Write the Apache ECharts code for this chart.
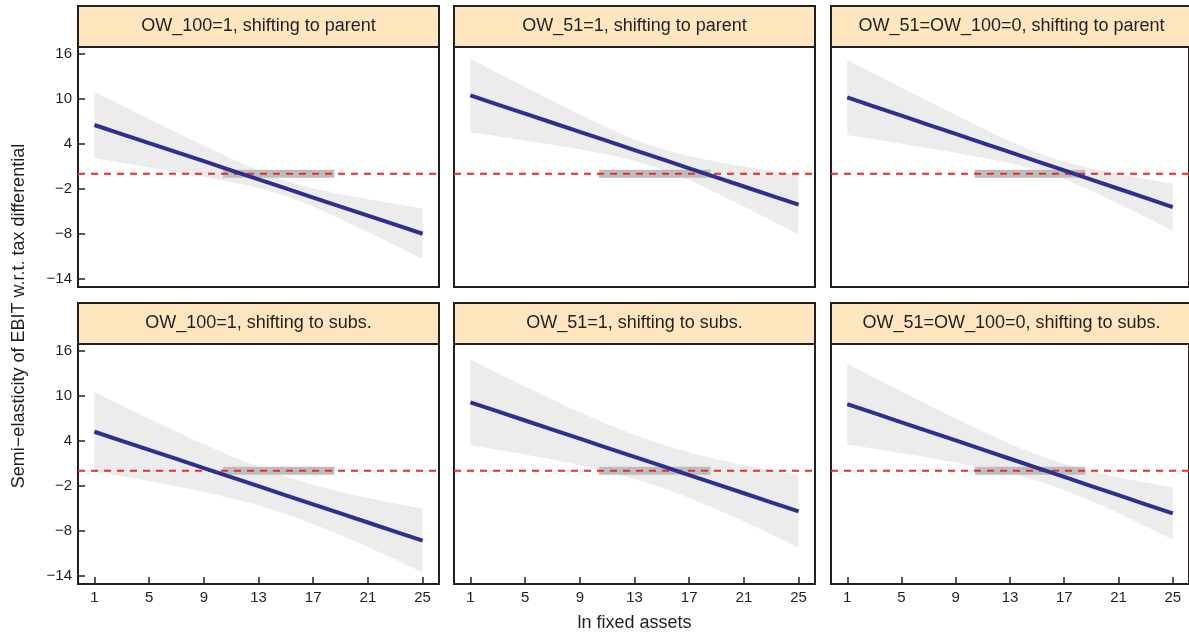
<!DOCTYPE html>
<html><head><meta charset="utf-8">
<script src="https://cdn.jsdelivr.net/npm/echarts@6/dist/echarts.min.js"></script>
<style>html,body{margin:0;padding:0;background:#fff}#c{width:1189px;height:636px}</style>
</head><body><div id="c"></div>
<script>
// ---- data ----
const panelTitles = [
  'OW_100=1, shifting to parent', 'OW_51=1, shifting to parent', 'OW_51=OW_100=0, shifting to parent',
  'OW_100=1, shifting to subs.', 'OW_51=1, shifting to subs.', 'OW_51=OW_100=0, shifting to subs.'
];
const xGrid = [1,3,5,7,9,11,13,15,17,19,21,23,25];
const fit1 = [6.50,5.29,4.08,2.88,1.67,0.46,-0.75,-1.96,-3.17,-4.38,-5.58,-6.79,-8.00];
const upper1 = [10.94,9.12,7.31,5.52,3.75,2.02,0.40,-0.96,-1.96,-2.73,-3.39,-4.03,-4.65];
const lower1 = [2.06,1.46,0.85,0.24,-0.41,-1.10,-1.90,-2.96,-4.38,-6.03,-7.77,-9.55,-11.35];
const fit2 = [10.44,9.23,8.01,6.80,5.58,4.37,3.16,1.94,0.73,-0.49,-1.70,-2.91,-4.13];
const upper2 = [15.33,13.45,11.57,9.72,7.90,6.16,4.58,3.29,2.34,1.60,0.97,0.39,-0.17];
const lower2 = [5.55,5.01,4.45,3.88,3.26,2.58,1.74,0.59,-0.88,-2.58,-4.37,-6.21,-8.09];
const fit3 = [10.18,8.96,7.74,6.53,5.31,4.09,2.87,1.65,0.44,-0.78,-2.00,-3.22,-4.44];
const upper3 = [15.18,13.33,11.48,9.66,7.84,6.05,4.34,2.80,1.59,0.69,-0.04,-0.69,-1.31];
const lower3 = [5.18,4.59,4.00,3.40,2.78,2.13,1.40,0.50,-0.71,-2.25,-3.96,-5.75,-7.57];
const fit4 = [5.20,3.99,2.78,1.57,0.36,-0.85,-2.06,-3.27,-4.48,-5.69,-6.90,-8.11,-9.32];
const upper4 = [10.49,8.70,6.93,5.20,3.54,1.96,0.51,-0.77,-1.87,-2.82,-3.64,-4.38,-5.06];
const lower4 = [-0.09,-0.72,-1.37,-2.06,-2.82,-3.66,-4.63,-5.77,-7.09,-8.56,-10.16,-11.84,-13.58];
const fit5 = [9.12,7.91,6.70,5.48,4.27,3.06,1.85,0.64,-0.58,-1.79,-3.00,-4.21,-5.42];
const upper5 = [14.84,13.01,11.22,9.47,7.80,6.23,4.80,3.55,2.46,1.54,0.75,0.04,-0.61];
const lower5 = [3.40,2.81,2.18,1.49,0.74,-0.11,-1.10,-2.27,-3.62,-5.12,-6.75,-8.46,-10.23];
const fit6 = [8.89,7.67,6.46,5.25,4.04,2.82,1.60,0.39,-0.83,-2.05,-3.26,-4.48,-5.69];
const upper6 = [14.27,12.41,10.57,8.75,6.97,5.23,3.58,2.12,0.90,-0.07,-0.85,-1.55,-2.19];
const lower6 = [3.51,2.93,2.35,1.75,1.11,0.41,-0.38,-1.34,-2.56,-4.03,-5.67,-7.41,-9.19];
const iqrRange = [10.4, 18.55];   // grey bar on the zero line
const refValue = 0;               // red dashed reference line
const xTicks = [1,5,9,13,17,21,25];
const yTicks = [-14,-8,-2,4,10,16];
const xRange = [-0.2, 26.2];
const yRange = [-15.1, 16.9];
const xTitle = 'ln fixed assets';
const yTitle = 'Semi\u2212elasticity of EBIT w.r.t. tax differential';

// ---- layout ----
const fits = [fit1, fit2, fit3, fit4, fit5, fit6];
const uppers = [upper1, upper2, upper3, upper4, upper5, upper6];
const lowers = [lower1, lower2, lower3, lower4, lower5, lower6];
const colLeft = [78, 454, 831];
const rowTop = [47, 344];
const W = 361, H = 240, STRIP = 41;
const INK = '#231F20';
const FONT = '"Liberation Sans", Arial, Helvetica, sans-serif';

const grids = [], xAxes = [], yAxes = [], series = [], graphics = [];
for (let p = 0; p < 6; p++) {
  const r = Math.floor(p / 3), c = p % 3;
  const left = colLeft[c], top = rowTop[r];
  grids.push({left: left, top: top, width: W, height: H, show: true,
    borderColor: INK, borderWidth: 2, backgroundColor: '#fff', containLabel: false});
  const showX = r === 1, showY = c === 0;
  xAxes.push({type: 'value', gridIndex: p, min: xRange[0], max: xRange[1], position: 'bottom',
    axisLine: {show: false, onZero: false}, splitLine: {show: false},
    axisTick: {show: showX, inside: true, length: 7, customValues: xTicks, lineStyle: {color: INK, width: 1.5}},
    axisLabel: {show: showX, customValues: xTicks, fontSize: 15, color: INK, fontFamily: FONT, margin: 6}});
  yAxes.push({type: 'value', gridIndex: p, min: yRange[0], max: yRange[1], position: 'left',
    axisLine: {show: false, onZero: false}, splitLine: {show: false},
    axisTick: {show: showY, inside: true, length: 7, customValues: yTicks, lineStyle: {color: INK, width: 1.5}},
    axisLabel: {show: showY, customValues: yTicks, fontSize: 15, color: INK, fontFamily: FONT, margin: 6,
      formatter: v => String(v).replace('-', '\u2212')}});
  const up = uppers[p], lo = lowers[p];
  series.push({type: 'custom', xAxisIndex: p, yAxisIndex: p, z: 1, silent: true,
    data: xGrid.map((x, i) => [x, up[i], lo[i]]), encode: {x: 0, y: [1, 2]},
    renderItem: function (params, api) {
      if (params.dataIndex !== 0) return null;
      const pts = [];
      for (let i = 0; i < xGrid.length; i++) pts.push(api.coord([xGrid[i], up[i]]));
      for (let i = xGrid.length - 1; i >= 0; i--) pts.push(api.coord([xGrid[i], lo[i]]));
      return {type: 'polygon', shape: {points: pts}, style: {fill: '#ECECEC'}};
    }});
  series.push({type: 'line', xAxisIndex: p, yAxisIndex: p, z: 2, silent: true, symbol: 'none',
    data: iqrRange.map(x => [x, refValue]), lineStyle: {color: '#BDBDBD', width: 8, cap: 'butt'}});
  series.push({type: 'line', xAxisIndex: p, yAxisIndex: p, z: 3, silent: true, symbol: 'none',
    data: xRange.map(x => [x, refValue]), lineStyle: {color: '#EE2A2A', width: 1.8, type: [7, 6]}});
  series.push({type: 'line', xAxisIndex: p, yAxisIndex: p, z: 4, silent: true, symbol: 'none',
    data: xGrid.map((x, i) => [x, fits[p][i]]), lineStyle: {color: '#2E2F8E', width: 4}});
  graphics.push({type: 'rect', shape: {x: left, y: top - STRIP, width: W, height: STRIP},
    style: {fill: '#FFE6BF', stroke: INK, lineWidth: 2}, z: 10});
  graphics.push({type: 'text', x: left + W / 2, y: top - STRIP / 2, z: 11,
    style: {text: panelTitles[p], fill: INK, font: '18px ' + FONT, align: 'center', verticalAlign: 'middle'}});
}
graphics.push({type: 'text', x: colLeft[1] + W / 2, y: 623, z: 11,
  style: {text: xTitle, fill: INK, font: '18px ' + FONT, align: 'center', verticalAlign: 'middle'}});
graphics.push({type: 'text', x: 19, y: 316, rotation: Math.PI / 2, z: 11,
  style: {text: yTitle, fill: INK, font: '18px ' + FONT, align: 'center', verticalAlign: 'middle'}});

const chart = echarts.init(document.getElementById('c'), null, {renderer: 'canvas'});
chart.setOption({animation: false, backgroundColor: '#fff', grid: grids, xAxis: xAxes, yAxis: yAxes,
  series: series, graphic: graphics});
</script></body></html>
